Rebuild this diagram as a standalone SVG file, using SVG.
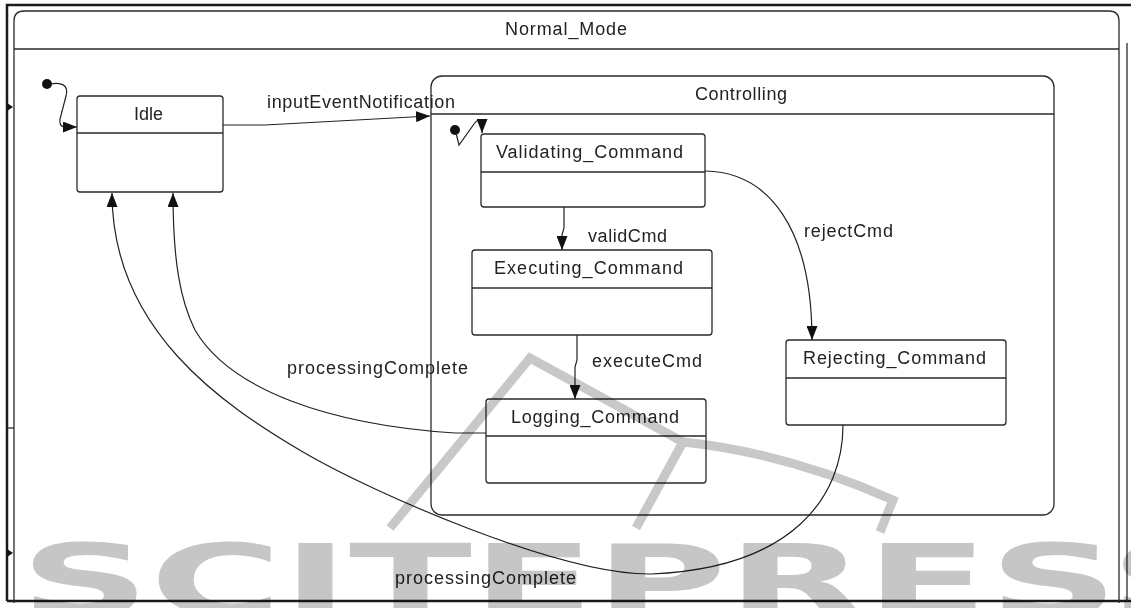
<svg xmlns="http://www.w3.org/2000/svg" width="1131" height="608" viewBox="0 0 1131 608">
  <style>
    .box{fill:#fff;stroke:#2a2a2a;stroke-width:1.3}
    .outline{fill:none;stroke:#2a2a2a;stroke-width:1.3}
    .lbl{font-family:"Liberation Sans",Arial,sans-serif;font-size:18px;fill:#222}
    .edge{fill:none;stroke:#222;stroke-width:1.2;marker-end:url(#arr)}
    .dot{fill:#111}
    .wm{mix-blend-mode:multiply}
  </style>
  <defs>
    <marker id="arr" viewBox="0 0 14 11" refX="14" refY="5.5" markerWidth="14" markerHeight="11" markerUnits="userSpaceOnUse" orient="auto">
      <path d="M0,0 L14,5.5 L0,11 z" fill="#111"/>
    </marker>
  </defs>

  <rect x="0" y="0" width="1131" height="608" fill="#fff"/>

  <!-- outer frame -->
  <g id="frame">
    <path d="M7,601 V5 H1131" fill="none" stroke="#1a1a1a" stroke-width="2.5"/>
    <path d="M7,601 H1131" fill="none" stroke="#1a1a1a" stroke-width="2.5"/>
    <path d="M1127,43 V601" fill="none" stroke="#2a2a2a" stroke-width="1.3"/>
    <path d="M7,428 H14" fill="none" stroke="#2a2a2a" stroke-width="1.3"/>
    <polygon points="7,103 13,107 7,111" fill="#111"/>
    <polygon points="7,549 13,553 7,557" fill="#111"/>
  </g>

  <!-- composite state: Normal_Mode -->
  <g id="node-normal-mode">
    <path class="outline" d="M14,603 V21 Q14,11 24,11 H1109 Q1119,11 1119,21 V603"/>
    <path class="outline" d="M14,49 H1119"/>
    <text class="lbl" x="505" y="35" textLength="122" lengthAdjust="spacing">Normal_Mode</text>
  </g>

  <!-- composite state: Controlling -->
  <g id="node-controlling">
    <rect class="outline" x="431" y="76" width="623" height="439" rx="11"/>
    <path class="outline" d="M431,114 H1054"/>
    <text class="lbl" x="695" y="100" textLength="92" lengthAdjust="spacing">Controlling</text>
  </g>

  <g id="node-idle">
    <rect class="box" x="77" y="96" width="146" height="96" rx="3"/>
    <path class="outline" d="M77,133 H223"/>
    <text class="lbl" x="134" y="120" textLength="29" lengthAdjust="spacing">Idle</text>
  </g>

  <g id="node-validating">
    <rect class="box" x="481" y="134" width="224" height="73" rx="3"/>
    <path class="outline" d="M481,172 H705"/>
    <text class="lbl" x="496" y="158" textLength="187" lengthAdjust="spacing">Validating_Command</text>
  </g>

  <g id="node-executing">
    <rect class="box" x="472" y="250" width="240" height="85" rx="3"/>
    <path class="outline" d="M472,288 H712"/>
    <text class="lbl" x="494" y="274" textLength="189" lengthAdjust="spacing">Executing_Command</text>
  </g>

  <g id="node-logging">
    <rect class="box" x="486" y="399" width="220" height="84" rx="3"/>
    <path class="outline" d="M486,436 H706"/>
    <text class="lbl" x="511" y="423" textLength="168" lengthAdjust="spacing">Logging_Command</text>
  </g>

  <g id="node-rejecting">
    <rect class="box" x="786" y="340" width="220" height="85" rx="3"/>
    <path class="outline" d="M786,378 H1006"/>
    <text class="lbl" x="803" y="364" textLength="183" lengthAdjust="spacing">Rejecting_Command</text>
  </g>

  <!-- transitions -->
  <g id="connectors">
    <circle class="dot" cx="47" cy="84" r="5"/>
    <path class="edge" d="M50,84 C62,82 69,85 66,96 L60,119 Q59,126 64,127 L77,127"/>

    <path class="edge" d="M223,125 L265,125 L430,116"/>
    <text class="lbl" x="267" y="108" textLength="188" lengthAdjust="spacing">inputEventNotification</text>

    <circle class="dot" cx="455" cy="130" r="5"/>
    <path class="edge" d="M456,133 L459,145 L474,124 Q478,118 482,121 L482,133"/>

    <path class="edge" d="M564,207 L564,228 L562,235 L562,250"/>
    <text class="lbl" x="588" y="242" textLength="79" lengthAdjust="spacing">validCmd</text>

    <path class="edge" d="M577,335 L577,360 L575,367 L575,399"/>
    <text class="lbl" x="592" y="367" textLength="110" lengthAdjust="spacing">executeCmd</text>

    <path class="edge" d="M705,171 C770,172 812,230 812,340"/>
    <text class="lbl" x="804" y="237" textLength="89" lengthAdjust="spacing">rejectCmd</text>

    <path class="edge" d="M486,433 L455,433 C330,425 230,390 195,330 C180,300 173,260 173,193"/>
    <text class="lbl" x="287" y="374" textLength="181" lengthAdjust="spacing">processingComplete</text>

    <path class="edge" d="M843,425 C843,495 795,568 651,574 C560,575 373,493 303,452 C223,405 112,330 112,193"/>
    <text class="lbl" x="395" y="584" textLength="181" lengthAdjust="spacing">processingComplete</text>
  </g>

  <!-- publisher stamp -->
  <g id="watermark" class="wm">
    <text x="20" y="616" font-family="'DejaVu Sans',sans-serif" font-weight="bold" font-size="100" textLength="1220" lengthAdjust="spacingAndGlyphs" fill="#c6c6c6">SCITEPRESS</text>
    <path d="M390,528 L530,358 L683,442 M636,528 L683,442" fill="none" stroke="#c8c8c8" stroke-width="9" stroke-linejoin="miter"/>
    <path d="M683,442 C760,450 830,472 893,500 L880,532" fill="none" stroke="#c8c8c8" stroke-width="9"/>
  </g>
</svg>
